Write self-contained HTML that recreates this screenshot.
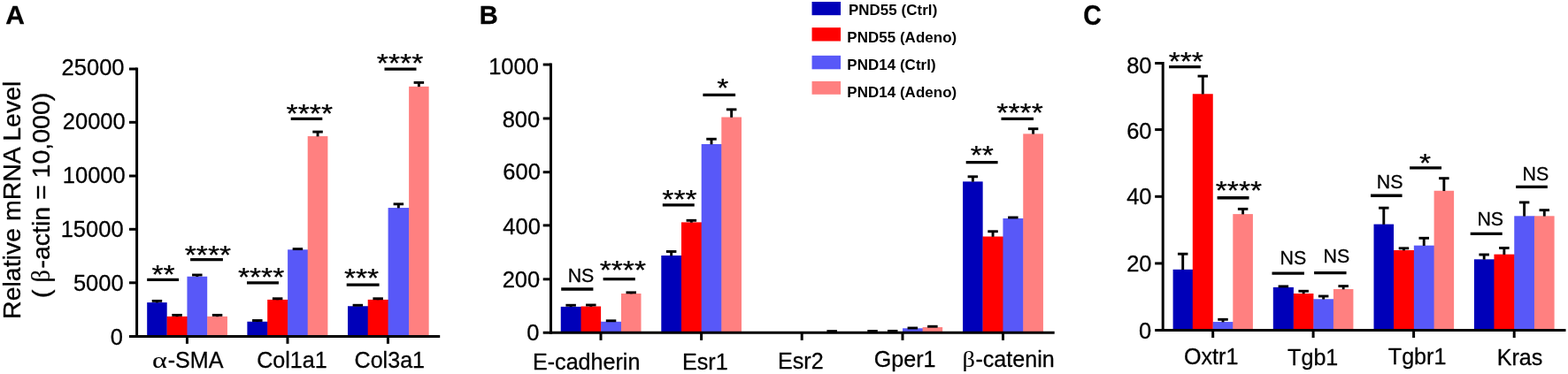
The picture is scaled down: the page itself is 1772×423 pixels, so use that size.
<!DOCTYPE html>
<html lang="en">
<head>
<meta charset="utf-8">
<title>Relative mRNA Level</title>
<style>
html,body{margin:0;padding:0;background:#fff;}
body{width:1772px;height:423px;overflow:hidden;}
svg{display:block;}
svg text{font-family:"Liberation Sans", Arial, Helvetica, sans-serif;fill:#000;stroke:#000;stroke-width:0.28px;stroke-linejoin:round;}
svg text.yt{stroke-width:0.35px;}
svg text.lg{stroke:none;letter-spacing:0.08px;}
svg text.gr{font-family:"Liberation Serif","Times New Roman",serif;stroke-width:0.12px;}
</style>
</head>
<body>
<svg width="1772" height="423" viewBox="0 0 1772 423">
<rect x="0" y="0" width="1772" height="423" fill="#fff"/>
<!-- Panel A -->
<g>
<rect x="166.2" y="342.1" width="22.5" height="38.5" fill="#0000b9"/>
<rect x="188.6" y="357.9" width="0.6" height="22.7" fill="#0000b9"/>
<rect x="188.7" y="357.9" width="23.35" height="22.7" fill="#ff0000"/>
<rect x="211.45" y="312.75" width="22.75" height="67.85" fill="#5858f8"/>
<rect x="234.1" y="357.9" width="0.6" height="22.7" fill="#5858f8"/>
<rect x="234.2" y="357.9" width="22.75" height="22.7" fill="#ff8080"/>
<rect x="279.4" y="363.75" width="23.4" height="16.85" fill="#0000b9"/>
<rect x="302.2" y="338.9" width="23.5" height="41.7" fill="#ff0000"/>
<rect x="325.1" y="282.3" width="23.2" height="98.3" fill="#5858f8"/>
<rect x="347.7" y="154.05" width="22.7" height="226.55" fill="#ff8080"/>
<rect x="393" y="346.25" width="23.3" height="34.35" fill="#0000b9"/>
<rect x="415.7" y="338.9" width="23.5" height="41.7" fill="#ff0000"/>
<rect x="438.6" y="235.05" width="24.1" height="145.55" fill="#5858f8"/>
<rect x="462.1" y="97.85" width="22.55" height="282.75" fill="#ff8080"/>
</g>
<g stroke="#000" fill="none">
<line x1="177.45" y1="340.4" x2="177.45" y2="342.4" stroke-width="2.9"/>
<line x1="171.7" y1="340.4" x2="183.2" y2="340.4" stroke-width="2.9"/>
<line x1="200.07" y1="356.4" x2="200.07" y2="358.2" stroke-width="2.9"/>
<line x1="194.32" y1="356.4" x2="205.82" y2="356.4" stroke-width="2.9"/>
<line x1="222.82" y1="311" x2="222.82" y2="313.05" stroke-width="2.9"/>
<line x1="217.07" y1="311" x2="228.57" y2="311" stroke-width="2.9"/>
<line x1="245.57" y1="356.4" x2="245.57" y2="358.2" stroke-width="2.9"/>
<line x1="239.82" y1="356.4" x2="251.32" y2="356.4" stroke-width="2.9"/>
<line x1="290.8" y1="362.5" x2="290.8" y2="364.05" stroke-width="2.9"/>
<line x1="285.05" y1="362.5" x2="296.55" y2="362.5" stroke-width="2.9"/>
<line x1="313.65" y1="337.75" x2="313.65" y2="339.2" stroke-width="2.9"/>
<line x1="307.9" y1="337.75" x2="319.4" y2="337.75" stroke-width="2.9"/>
<line x1="330.65" y1="281.6" x2="342.15" y2="281.6" stroke-width="2.9"/>
<line x1="359.05" y1="149.1" x2="359.05" y2="154.35" stroke-width="2.9"/>
<line x1="353.3" y1="149.1" x2="364.8" y2="149.1" stroke-width="2.9"/>
<line x1="398.6" y1="345.25" x2="410.1" y2="345.25" stroke-width="2.9"/>
<line x1="427.15" y1="337.75" x2="427.15" y2="339.2" stroke-width="2.9"/>
<line x1="421.4" y1="337.75" x2="432.9" y2="337.75" stroke-width="2.9"/>
<line x1="450.35" y1="230.8" x2="450.35" y2="235.35" stroke-width="2.9"/>
<line x1="444.6" y1="230.8" x2="456.1" y2="230.8" stroke-width="2.9"/>
<line x1="473.38" y1="93.4" x2="473.38" y2="98.15" stroke-width="2.9"/>
<line x1="467.62" y1="93.4" x2="479.12" y2="93.4" stroke-width="2.9"/>
<line x1="154.6" y1="76.5" x2="154.6" y2="382.1" stroke-width="3"/>
<line x1="146" y1="380.6" x2="497.2" y2="380.6" stroke-width="3"/>
<line x1="146" y1="78" x2="154.6" y2="78" stroke-width="3"/>
<line x1="146" y1="138.3" x2="154.6" y2="138.3" stroke-width="3"/>
<line x1="146" y1="199" x2="154.6" y2="199" stroke-width="3"/>
<line x1="146" y1="259.3" x2="154.6" y2="259.3" stroke-width="3"/>
<line x1="146" y1="319.8" x2="154.6" y2="319.8" stroke-width="3"/>
<line x1="211.45" y1="380.6" x2="211.45" y2="388.8" stroke-width="3"/>
<line x1="325" y1="380.6" x2="325" y2="388.8" stroke-width="3"/>
<line x1="438.45" y1="380.6" x2="438.45" y2="388.8" stroke-width="3"/>
</g>
<text x="69.6" y="84.5" font-size="25.5">25000</text>
<text x="70.8" y="146.35" font-size="25.5">20000</text>
<text x="70.8" y="206.95" font-size="25.5">10000</text>
<text x="68.7" y="268" font-size="25.5">15000</text>
<text x="82.95" y="329.2" font-size="25.5">5000</text>
<text x="124.65" y="390.15" font-size="25.5">0</text>
<text transform="translate(172.12,415.9) scale(1.28,1)" font-size="25.1" class="gr">α</text>
<text x="189.7" y="415.9" font-size="25.1">-SMA</text>
<text x="290.2" y="416" font-size="25.1">Col1a1</text>
<text x="400.55" y="415.7" font-size="25.1">Col3a1</text>
<text transform="translate(171.43,320.35) scale(1,0.865)" font-size="33.7">**</text>
<line x1="166.2" y1="316.35" x2="202" y2="316.35" stroke="#000" stroke-width="3.3"/>
<text transform="translate(208.75,298.43) scale(1,0.865)" font-size="33.7">****</text>
<line x1="215.1" y1="293.6" x2="251.9" y2="293.6" stroke="#000" stroke-width="3.3"/>
<text transform="translate(268.9,322.55) scale(1,0.865)" font-size="33.7">****</text>
<line x1="279" y1="319.8" x2="314.95" y2="319.8" stroke="#000" stroke-width="3.3"/>
<text transform="translate(323.55,138.33) scale(1,0.865)" font-size="33.7">****</text>
<line x1="328.7" y1="134.3" x2="364.3" y2="134.3" stroke="#000" stroke-width="3.3"/>
<text transform="translate(388.9,323.65) scale(1,0.865)" font-size="33.7">***</text>
<line x1="391.7" y1="322.1" x2="428.6" y2="322.1" stroke="#000" stroke-width="3.3"/>
<text transform="translate(425.85,81.33) scale(1,0.865)" font-size="33.7">****</text>
<line x1="434.5" y1="78.05" x2="470.5" y2="78.05" stroke="#000" stroke-width="3.3"/>
<text transform="translate(22.7,360.95) rotate(-90)" font-size="28.5" class="yt">Relative mRNA Level</text>
<text transform="translate(56.1,337.05) rotate(-90)" font-size="28.5" class="yt">(</text>
<text transform="translate(56.1,319.55) rotate(-90)" font-size="28.5" class="gr">β</text>
<text transform="translate(56.1,303.55) rotate(-90)" font-size="28.5" class="yt">-actin = 10,000)</text>
<!-- Panel B -->
<g>
<rect x="633.75" y="346.9" width="23.4" height="29.35" fill="#0000b9"/>
<rect x="656.55" y="346.5" width="22.55" height="29.75" fill="#ff0000"/>
<rect x="679" y="363.8" width="0.6" height="12.45" fill="#ff0000"/>
<rect x="679.1" y="363.8" width="23.5" height="12.45" fill="#5858f8"/>
<rect x="702" y="332" width="22.5" height="44.25" fill="#ff8080"/>
<rect x="747.3" y="289" width="23.3" height="87.25" fill="#0000b9"/>
<rect x="770" y="251.4" width="23.3" height="124.85" fill="#ff0000"/>
<rect x="792.7" y="163" width="23.2" height="213.25" fill="#5858f8"/>
<rect x="815.3" y="132.5" width="22.7" height="243.75" fill="#ff8080"/>
<rect x="1020.05" y="371.3" width="23.15" height="4.95" fill="#5858f8"/>
<rect x="1042.6" y="370.05" width="22.55" height="6.2" fill="#ff8080"/>
<rect x="1088.1" y="205.35" width="22.55" height="170.9" fill="#0000b9"/>
<rect x="1110.55" y="267.5" width="0.6" height="108.75" fill="#0000b9"/>
<rect x="1110.65" y="267.5" width="23.4" height="108.75" fill="#ff0000"/>
<rect x="1133.45" y="247" width="23.4" height="129.25" fill="#5858f8"/>
<rect x="1156.25" y="151.35" width="22.7" height="224.9" fill="#ff8080"/>
</g>
<g stroke="#000" fill="none">
<line x1="645.15" y1="345.25" x2="645.15" y2="347.2" stroke-width="2.9"/>
<line x1="639.4" y1="345.25" x2="650.9" y2="345.25" stroke-width="2.9"/>
<line x1="667.83" y1="345" x2="667.83" y2="346.8" stroke-width="2.9"/>
<line x1="662.08" y1="345" x2="673.58" y2="345" stroke-width="2.9"/>
<line x1="684.8" y1="362.8" x2="696.3" y2="362.8" stroke-width="2.9"/>
<line x1="713.25" y1="330.85" x2="713.25" y2="332.3" stroke-width="2.9"/>
<line x1="707.5" y1="330.85" x2="719" y2="330.85" stroke-width="2.9"/>
<line x1="758.65" y1="284.5" x2="758.65" y2="289.3" stroke-width="2.9"/>
<line x1="752.9" y1="284.5" x2="764.4" y2="284.5" stroke-width="2.9"/>
<line x1="781.35" y1="249.3" x2="781.35" y2="251.7" stroke-width="2.9"/>
<line x1="775.6" y1="249.3" x2="787.1" y2="249.3" stroke-width="2.9"/>
<line x1="804" y1="157.25" x2="804" y2="163.3" stroke-width="2.9"/>
<line x1="798.25" y1="157.25" x2="809.75" y2="157.25" stroke-width="2.9"/>
<line x1="826.65" y1="123.85" x2="826.65" y2="132.8" stroke-width="2.9"/>
<line x1="820.9" y1="123.85" x2="832.4" y2="123.85" stroke-width="2.9"/>
<line x1="940.18" y1="374.6" x2="940.18" y2="376.55" stroke-width="2.9"/>
<line x1="934.43" y1="374.6" x2="945.93" y2="374.6" stroke-width="2.9"/>
<line x1="986.05" y1="374.5" x2="986.05" y2="376.55" stroke-width="2.9"/>
<line x1="980.3" y1="374.5" x2="991.8" y2="374.5" stroke-width="2.9"/>
<line x1="1008.72" y1="374.4" x2="1008.72" y2="376.55" stroke-width="2.9"/>
<line x1="1002.97" y1="374.4" x2="1014.47" y2="374.4" stroke-width="2.9"/>
<line x1="1025.57" y1="371" x2="1037.07" y2="371" stroke-width="2.9"/>
<line x1="1048.12" y1="369.25" x2="1059.62" y2="369.25" stroke-width="2.9"/>
<line x1="1099.38" y1="199.8" x2="1099.38" y2="205.65" stroke-width="2.9"/>
<line x1="1093.62" y1="199.8" x2="1105.12" y2="199.8" stroke-width="2.9"/>
<line x1="1122.05" y1="261.75" x2="1122.05" y2="267.8" stroke-width="2.9"/>
<line x1="1116.3" y1="261.75" x2="1127.8" y2="261.75" stroke-width="2.9"/>
<line x1="1139.1" y1="246" x2="1150.6" y2="246" stroke-width="2.9"/>
<line x1="1167.6" y1="145.7" x2="1167.6" y2="151.65" stroke-width="2.9"/>
<line x1="1161.85" y1="145.7" x2="1173.35" y2="145.7" stroke-width="2.9"/>
<line x1="622.5" y1="71.55" x2="622.5" y2="377.75" stroke-width="3"/>
<line x1="613.7" y1="376.25" x2="1191.7" y2="376.25" stroke-width="3"/>
<line x1="613.7" y1="73.05" x2="622.5" y2="73.05" stroke-width="3"/>
<line x1="613.7" y1="134" x2="622.5" y2="134" stroke-width="3"/>
<line x1="613.7" y1="194.7" x2="622.5" y2="194.7" stroke-width="3"/>
<line x1="613.7" y1="254.9" x2="622.5" y2="254.9" stroke-width="3"/>
<line x1="613.7" y1="315.8" x2="622.5" y2="315.8" stroke-width="3"/>
<line x1="679" y1="376.25" x2="679" y2="384.85" stroke-width="3"/>
<line x1="792.6" y1="376.25" x2="792.6" y2="384.85" stroke-width="3"/>
<line x1="906.2" y1="376.25" x2="906.2" y2="384.85" stroke-width="3"/>
<line x1="1020" y1="376.25" x2="1020" y2="384.85" stroke-width="3"/>
<line x1="1133.5" y1="376.25" x2="1133.5" y2="384.85" stroke-width="3"/>
</g>
<text x="552.15" y="84.45" font-size="25.5">1000</text>
<text x="567.7" y="144.45" font-size="25.5">800</text>
<text x="568.3" y="203.35" font-size="25.5">600</text>
<text x="568.3" y="264.65" font-size="25.5">400</text>
<text x="567.7" y="325.05" font-size="25.5">200</text>
<text x="595.35" y="385.35" font-size="25.5">0</text>
<text x="602" y="417.85" font-size="25.1">E-cadherin</text>
<text x="771" y="417.85" font-size="25.1">Esr1</text>
<text x="879.05" y="416.6" font-size="25.1">Esr2</text>
<text x="987.75" y="414.5" font-size="25.1">Gper1</text>
<text transform="translate(1087.51,414.6) scale(1.13,1)" font-size="25.1" class="gr">β</text>
<text x="1102.4" y="414.6" font-size="25.1">-catenin</text>
<text x="641.65" y="319.43" font-size="21.4">NS</text>
<line x1="634.2" y1="327" x2="670.4" y2="327" stroke="#000" stroke-width="3.3"/>
<text transform="translate(677.65,315.48) scale(1,0.865)" font-size="33.7">****</text>
<line x1="681.6" y1="315.6" x2="717.8" y2="315.6" stroke="#000" stroke-width="3.3"/>
<text transform="translate(748.35,235.2) scale(1,0.865)" font-size="33.7">***</text>
<line x1="748.8" y1="231.8" x2="784.75" y2="231.8" stroke="#000" stroke-width="3.3"/>
<text transform="translate(810.23,108.8) scale(1,0.865)" font-size="33.7">*</text>
<line x1="794.4" y1="107.4" x2="831.1" y2="107.4" stroke="#000" stroke-width="3.3"/>
<text transform="translate(1096.72,184.93) scale(1,0.865)" font-size="33.7">**</text>
<line x1="1091.7" y1="183.55" x2="1127.6" y2="183.55" stroke="#000" stroke-width="3.3"/>
<text transform="translate(1126.35,137.28) scale(1,0.865)" font-size="33.7">****</text>
<line x1="1131.5" y1="134.45" x2="1168" y2="134.45" stroke="#000" stroke-width="3.3"/>
<!-- Legend -->
<rect x="917.55" y="2" width="32.5" height="15.2" fill="#0000b9"/>
<text x="958.9" y="16.7" font-size="16.9" font-weight="bold" class="lg">PND55 (Ctrl)</text>
<rect x="917.55" y="31.2" width="32.5" height="15.3" fill="#ff0000"/>
<text x="957.3" y="48.4" font-size="16.9" font-weight="bold" class="lg">PND55 (Adeno)</text>
<rect x="917.55" y="62.85" width="32.5" height="15.45" fill="#5858f8"/>
<text x="957.3" y="79.35" font-size="16.9" font-weight="bold" class="lg">PND14 (Ctrl)</text>
<rect x="917.55" y="91.9" width="32.5" height="14.9" fill="#ff8080"/>
<text x="957.3" y="110.4" font-size="16.9" font-weight="bold" class="lg">PND14 (Adeno)</text>
<!-- Panel C -->
<g>
<rect x="1325.6" y="304.8" width="22.8" height="68.7" fill="#0000b9"/>
<rect x="1347.8" y="106.25" width="22.95" height="267.25" fill="#ff0000"/>
<rect x="1370.65" y="364.05" width="0.6" height="9.45" fill="#ff0000"/>
<rect x="1370.75" y="364.05" width="23.15" height="9.45" fill="#5858f8"/>
<rect x="1393.3" y="242.1" width="22.6" height="131.4" fill="#ff8080"/>
<rect x="1438.8" y="324.9" width="23.1" height="48.6" fill="#0000b9"/>
<rect x="1461.8" y="332" width="0.6" height="41.5" fill="#0000b9"/>
<rect x="1461.9" y="332" width="22.5" height="41.5" fill="#ff0000"/>
<rect x="1484.3" y="338.25" width="0.6" height="35.25" fill="#ff0000"/>
<rect x="1484.4" y="338.25" width="23.1" height="35.25" fill="#5858f8"/>
<rect x="1506.9" y="327" width="22.5" height="46.5" fill="#ff8080"/>
<rect x="1552.5" y="253.6" width="22.55" height="119.9" fill="#0000b9"/>
<rect x="1574.95" y="283" width="0.6" height="90.5" fill="#0000b9"/>
<rect x="1575.05" y="283" width="23.4" height="90.5" fill="#ff0000"/>
<rect x="1597.85" y="277.65" width="23.35" height="95.85" fill="#5858f8"/>
<rect x="1620.6" y="215.75" width="22.5" height="157.75" fill="#ff8080"/>
<rect x="1665.9" y="293.3" width="23.15" height="80.2" fill="#0000b9"/>
<rect x="1688.45" y="287.65" width="23.4" height="85.85" fill="#ff0000"/>
<rect x="1711.25" y="244.3" width="23.3" height="129.2" fill="#5858f8"/>
<rect x="1733.95" y="244.3" width="22.65" height="129.2" fill="#ff8080"/>
</g>
<g stroke="#000" fill="none">
<line x1="1336.7" y1="287.2" x2="1336.7" y2="305.1" stroke-width="2.9"/>
<line x1="1330.95" y1="287.2" x2="1342.45" y2="287.2" stroke-width="2.9"/>
<line x1="1359.28" y1="86.1" x2="1359.28" y2="106.55" stroke-width="2.9"/>
<line x1="1353.53" y1="86.1" x2="1365.03" y2="86.1" stroke-width="2.9"/>
<line x1="1382.03" y1="361.3" x2="1382.03" y2="364.35" stroke-width="2.9"/>
<line x1="1376.28" y1="361.3" x2="1387.78" y2="361.3" stroke-width="2.9"/>
<line x1="1404.6" y1="236.35" x2="1404.6" y2="242.4" stroke-width="2.9"/>
<line x1="1398.85" y1="236.35" x2="1410.35" y2="236.35" stroke-width="2.9"/>
<line x1="1444.6" y1="323.9" x2="1456.1" y2="323.9" stroke-width="2.9"/>
<line x1="1473.15" y1="329.25" x2="1473.15" y2="332.3" stroke-width="2.9"/>
<line x1="1467.4" y1="329.25" x2="1478.9" y2="329.25" stroke-width="2.9"/>
<line x1="1495.65" y1="335" x2="1495.65" y2="338.55" stroke-width="2.9"/>
<line x1="1489.9" y1="335" x2="1501.4" y2="335" stroke-width="2.9"/>
<line x1="1518.15" y1="323.6" x2="1518.15" y2="327.3" stroke-width="2.9"/>
<line x1="1512.4" y1="323.6" x2="1523.9" y2="323.6" stroke-width="2.9"/>
<line x1="1563.78" y1="235.15" x2="1563.78" y2="253.9" stroke-width="2.9"/>
<line x1="1558.03" y1="235.15" x2="1569.53" y2="235.15" stroke-width="2.9"/>
<line x1="1586.45" y1="280.8" x2="1586.45" y2="283.3" stroke-width="2.9"/>
<line x1="1580.7" y1="280.8" x2="1592.2" y2="280.8" stroke-width="2.9"/>
<line x1="1609.22" y1="269.3" x2="1609.22" y2="277.95" stroke-width="2.9"/>
<line x1="1603.47" y1="269.3" x2="1614.97" y2="269.3" stroke-width="2.9"/>
<line x1="1631.85" y1="201.65" x2="1631.85" y2="216.05" stroke-width="2.9"/>
<line x1="1626.1" y1="201.65" x2="1637.6" y2="201.65" stroke-width="2.9"/>
<line x1="1677.18" y1="288" x2="1677.18" y2="293.6" stroke-width="2.9"/>
<line x1="1671.43" y1="288" x2="1682.93" y2="288" stroke-width="2.9"/>
<line x1="1699.85" y1="280.45" x2="1699.85" y2="287.95" stroke-width="2.9"/>
<line x1="1694.1" y1="280.45" x2="1705.6" y2="280.45" stroke-width="2.9"/>
<line x1="1722.6" y1="228.9" x2="1722.6" y2="244.6" stroke-width="2.9"/>
<line x1="1716.85" y1="228.9" x2="1728.35" y2="228.9" stroke-width="2.9"/>
<line x1="1745.28" y1="237.65" x2="1745.28" y2="244.6" stroke-width="2.9"/>
<line x1="1739.53" y1="237.65" x2="1751.03" y2="237.65" stroke-width="2.9"/>
<line x1="1314.2" y1="70" x2="1314.2" y2="375" stroke-width="3"/>
<line x1="1305.2" y1="373.5" x2="1769.5" y2="373.5" stroke-width="3"/>
<line x1="1305.2" y1="71.5" x2="1314.2" y2="71.5" stroke-width="3"/>
<line x1="1305.2" y1="146.6" x2="1314.2" y2="146.6" stroke-width="3"/>
<line x1="1305.2" y1="222.3" x2="1314.2" y2="222.3" stroke-width="3"/>
<line x1="1305.2" y1="297.9" x2="1314.2" y2="297.9" stroke-width="3"/>
<line x1="1370.7" y1="373.5" x2="1370.7" y2="382" stroke-width="3"/>
<line x1="1484.1" y1="373.5" x2="1484.1" y2="382" stroke-width="3"/>
<line x1="1597.6" y1="373.5" x2="1597.6" y2="382" stroke-width="3"/>
<line x1="1711.2" y1="373.5" x2="1711.2" y2="382" stroke-width="3"/>
</g>
<text x="1273.2" y="82.55" font-size="25.5">80</text>
<text x="1273.2" y="156.95" font-size="25.5">60</text>
<text x="1273.2" y="231.05" font-size="25.5">40</text>
<text x="1273.2" y="307.25" font-size="25.5">20</text>
<text x="1286.95" y="382.85" font-size="25.5">0</text>
<text x="1338.05" y="411.95" font-size="25.1">Oxtr1</text>
<text x="1455.1" y="413.2" font-size="25.1">Tgb1</text>
<text x="1568.8" y="411.95" font-size="25.1">Tgbr1</text>
<text x="1691.7" y="413.2" font-size="25.1">Kras</text>
<text transform="translate(1320.65,78.93) scale(1,0.865)" font-size="33.7">***</text>
<line x1="1321.1" y1="75.55" x2="1356.8" y2="75.55" stroke="#000" stroke-width="3.3"/>
<text transform="translate(1373.7,225.18) scale(1,0.865)" font-size="33.7">****</text>
<line x1="1375.6" y1="223.75" x2="1411.5" y2="223.75" stroke="#000" stroke-width="3.3"/>
<text x="1446.55" y="298.85" font-size="21.4">NS</text>
<line x1="1437.5" y1="309.15" x2="1473.9" y2="309.15" stroke="#000" stroke-width="3.3"/>
<text x="1495.6" y="296.77" font-size="21.4">NS</text>
<line x1="1485.1" y1="308.65" x2="1521.55" y2="308.65" stroke="#000" stroke-width="3.3"/>
<text x="1555.75" y="213.2" font-size="21.4">NS</text>
<line x1="1549" y1="221.25" x2="1584.55" y2="221.25" stroke="#000" stroke-width="3.3"/>
<text transform="translate(1604.08,194.13) scale(1,0.865)" font-size="33.7">*</text>
<line x1="1593.1" y1="189.9" x2="1629.05" y2="189.9" stroke="#000" stroke-width="3.3"/>
<text x="1669.4" y="254.95" font-size="21.4">NS</text>
<line x1="1661.7" y1="264.4" x2="1697.7" y2="264.4" stroke="#000" stroke-width="3.3"/>
<text x="1720.55" y="204.45" font-size="21.4">NS</text>
<line x1="1713.15" y1="211.35" x2="1748.85" y2="211.35" stroke="#000" stroke-width="3.3"/>
<!-- Panel letters -->
<text transform="translate(6.21,27.1) scale(0.983,0.978)" font-size="30.5" font-weight="bold">A</text>
<text transform="translate(541.79,27.45) scale(0.955,0.992)" font-size="30.5" font-weight="bold">B</text>
<text transform="translate(1224.18,27.69) scale(0.932,1.018)" font-size="30.5" font-weight="bold">C</text>
</svg>
</body>
</html>
